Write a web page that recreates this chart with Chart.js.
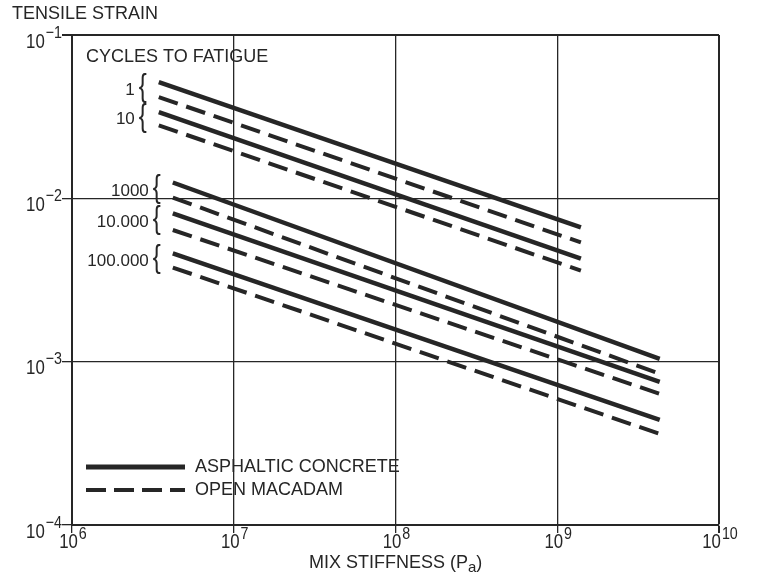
<!DOCTYPE html>
<html>
<head>
<meta charset="utf-8">
<script src="https://cdn.jsdelivr.net/npm/chart.js@4/dist/chart.umd.min.js"></script>
<style>
  body { margin: 0; background: #fff; }
  #wrap { width: 760px; height: 580px; position: relative; }
</style>
</head>
<body>
<div id="wrap"><canvas id="chart"></canvas></div>
<script>
// valores
var cycles = ['1', '10', '1000', '10.000', '100.000'];
var xStart = [3.44e6, 3.44e6, 4.2e6, 4.2e6, 4.2e6];
var xEnd = [1.4e9, 1.4e9, 4.3e9, 4.3e9, 4.3e9];
var asphaltStart = [0.0515, 0.0337, 0.0125, 0.0081, 0.0046];
var asphaltEnd = [0.00664, 0.00428, 0.00104, 0.000753, 0.00044];
var macadamStart = [0.0417, 0.028, 0.0101, 0.0064, 0.00377];
var macadamEnd = [0.00537, 0.00361, 0.000843, 0.000636, 0.000361];
var xTicks = [1e6, 1e7, 1e8, 1e9, 1e10];
var xTickExp = ['6', '7', '8', '9', '10'];
var yTicks = [1e-4, 1e-3, 1e-2, 1e-1];
var yTickExp = ['\u22124', '\u22123', '\u22122', '\u22121'];

var ink = '#262626';
var font = '"Liberation Sans", Arial, sans-serif';
var squeeze = 0.84;

var datasets = [];
for (var i = 0; i < cycles.length; i++) {
  datasets.push({
    label: 'ASPHALTIC CONCRETE ' + cycles[i],
    data: [{ x: xStart[i], y: asphaltStart[i] }, { x: xEnd[i], y: asphaltEnd[i] }],
    borderColor: ink, borderWidth: 4.5, pointRadius: 0, fill: false
  });
  datasets.push({
    label: 'OPEN MACADAM ' + cycles[i],
    data: [{ x: xStart[i], y: macadamStart[i] }, { x: xEnd[i], y: macadamEnd[i] }],
    borderColor: ink, borderWidth: 4, borderDash: [20, 9], pointRadius: 0, fill: false
  });
}

// texto comprimido horizontalmente, alineado a la izquierda
function narrow(ctx, text, x, y, size) {
  ctx.save();
  ctx.font = size + 'px ' + font;
  ctx.textAlign = 'left';
  ctx.textBaseline = 'middle';
  ctx.translate(x, y);
  ctx.scale(squeeze, 1);
  ctx.fillText(text, 0, 0);
  ctx.restore();
}

function width(ctx, text, size) {
  ctx.font = size + 'px ' + font;
  return ctx.measureText(text).width * squeeze;
}

function sup(ctx, exp, x, y, align, supDy) {
  var wb = width(ctx, '10', 20);
  var we = width(ctx, exp, 17);
  var total = wb + 1 + we;
  var left = align === 'right' ? x - total : x - total / 2;
  narrow(ctx, '10', left, y, 20);
  narrow(ctx, exp, left + wb + 1, y + supDy, 17);
}

var labelsPlugin = {
  id: 'labels',
  afterDraw: function (c) {
    var ctx = c.ctx;
    var xs = c.scales.x, ys = c.scales.y;
    ctx.save();
    ctx.fillStyle = ink;
    // etiquetas de ejes con superindice
    for (var i = 0; i < yTicks.length; i++) {
      sup(ctx, yTickExp[i], 62, ys.getPixelForValue(yTicks[i]) + 7, 'right', -9);
    }
    for (var j = 0; j < xTicks.length; j++) {
      sup(ctx, xTickExp[j], xs.getPixelForValue(xTicks[j]) + 1, 542, 'center', -8);
    }
    ctx.textBaseline = 'middle';
    ctx.font = '18px ' + font;
    ctx.textAlign = 'left';
    ctx.fillText('TENSILE STRAIN', 12, 14);
    // MIX STIFFNESS (Pa)
    var t1 = 'MIX STIFFNESS (P';
    var w1 = ctx.measureText(t1).width;
    var x0 = 309;
    ctx.fillText(t1, x0, 563);
    ctx.font = '15px ' + font;
    var wa = ctx.measureText('a').width;
    ctx.fillText('a', x0 + w1, 568);
    ctx.font = '18px ' + font;
    ctx.fillText(')', x0 + w1 + wa, 563);

    ctx.fillText('CYCLES TO FATIGUE', 86, 57);

    // llaves con numero de ciclos
    for (var k = 0; k < cycles.length; k++) {
      var ya = ys.getPixelForValue(asphaltStart[k]);
      var yb = ys.getPixelForValue(macadamStart[k]);
      var ym = (ya + yb) / 2;
      var xl = xs.getPixelForValue(xStart[k]) - 12;
      ctx.save();
      ctx.translate(xl, ym - 2);
      ctx.scale(0.75, 1);
      ctx.font = '32px ' + font;
      ctx.textAlign = 'right';
      ctx.textBaseline = 'middle';
      ctx.fillText('{', 0, 0);
      ctx.restore();
      ctx.font = '17px ' + font;
      ctx.textAlign = 'right';
      ctx.fillText(cycles[k], xl - 12, ym + 1);
    }

    // leyenda
    ctx.strokeStyle = ink;
    ctx.lineWidth = 5;
    ctx.beginPath(); ctx.moveTo(86, 467); ctx.lineTo(185, 467); ctx.stroke();
    ctx.lineWidth = 4;
    ctx.setLineDash([20, 8]);
    ctx.beginPath(); ctx.moveTo(86, 490); ctx.lineTo(185, 490); ctx.stroke();
    ctx.setLineDash([]);
    ctx.font = '18px ' + font;
    ctx.textAlign = 'left';
    ctx.fillText('ASPHALTIC CONCRETE', 195, 467);
    ctx.fillText('OPEN MACADAM', 195, 490);
    ctx.restore();
  }
};

var chart = new Chart(document.getElementById('chart'), {
  type: 'line',
  data: { datasets: datasets },
  plugins: [labelsPlugin],
  options: {
    responsive: true,
    maintainAspectRatio: false,
    animation: false,
    layout: { padding: { top: 35, right: 41, left: 0, bottom: 0 } },
    plugins: { legend: { display: false }, tooltip: { enabled: false } },
    elements: { line: { tension: 0 } },
    scales: {
      x: {
        type: 'logarithmic',
        min: 1e6, max: 1e10,
        afterBuildTicks: function (s) { s.ticks = xTicks.map(function (v) { return { value: v }; }); },
        afterFit: function (s) { s.height = 55; },
        ticks: { display: false },
        border: { display: true, color: ink, width: 2 },
        grid: {
          color: ink,
          lineWidth: function (ctx) { return ctx.tick && ctx.tick.value === 1e10 ? 2 : 1.3; },
          drawTicks: true, tickLength: 8
        }
      },
      y: {
        type: 'logarithmic',
        min: 1e-4, max: 1e-1,
        afterBuildTicks: function (s) { s.ticks = yTicks.map(function (v) { return { value: v }; }); },
        afterFit: function (s) { s.width = 72; },
        ticks: { display: false },
        border: { display: true, color: ink, width: 2 },
        grid: {
          color: ink,
          lineWidth: function (ctx) { return ctx.tick && ctx.tick.value === 1e-1 ? 2 : 1.3; },
          drawTicks: true, tickLength: 10
        }
      }
    }
  }
});
</script>
</body>
</html>
